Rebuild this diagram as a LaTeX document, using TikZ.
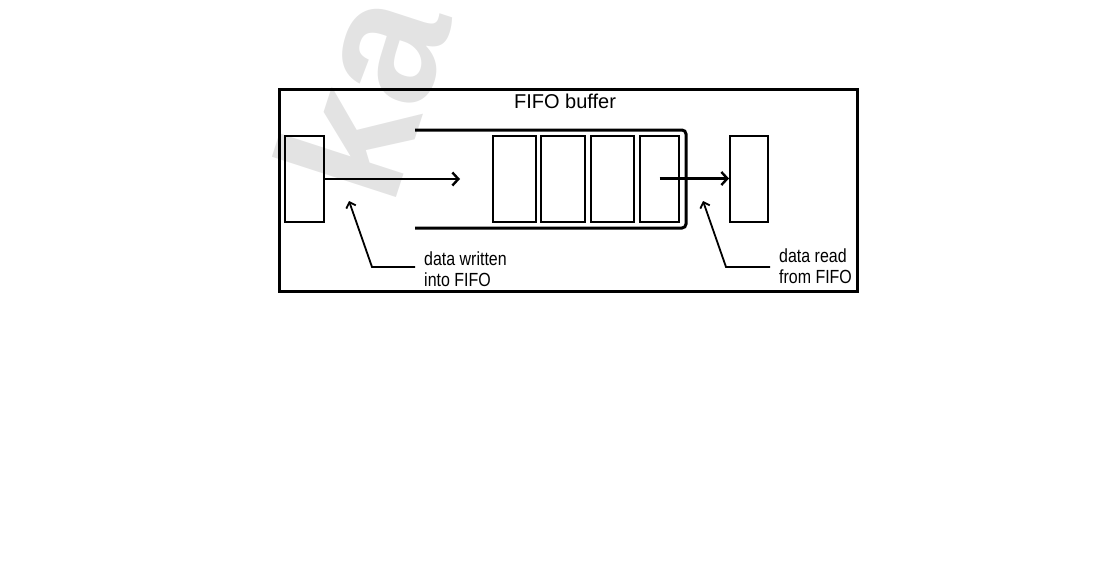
\documentclass[tikz,border=0pt]{standalone}
\usepackage{fontspec}
\setmainfont{Liberation Sans}
\newfontfamily\narrowsans[FakeStretch=0.84]{Liberation Sans}
\usetikzlibrary{arrows.meta}
\definecolor{wmgray}{gray}{0.89}
\tikzset{
  frameline/.style={line width=3pt},
  bufline/.style={line width=3pt, rounded corners=4pt},
  cellbox/.style={draw, line width=2pt, rectangle, inner sep=0pt, minimum height=86pt},
  flowarrow/.style={line width=2.4pt, -{Straight Barb[length=6pt,width=13pt,line width=2.4pt]}},
  leader/.style={line width=1.8pt, -{Straight Barb[length=5pt,width=10pt,line width=1.8pt]}},
  lbl/.style={inner sep=0pt, align=left, anchor=north west, font=\narrowsans\fontsize{19}{21}\selectfont},
  ttl/.style={inner sep=0pt, anchor=base, font=\fontsize{20}{24}\selectfont},
  wmark/.style={inner sep=0pt, anchor=base west, text=wmgray, rotate=72, font=\bfseries\fontsize{180}{180}\selectfont}
}
\begin{document}
\begin{tikzpicture}[x=1pt,y=-1pt]
\useasboundingbox (0,0) rectangle (1115,567);
% watermark
\node[wmark] (wm) at (392,210) {ka};
% frame
\draw[frameline] (279.5,89.5) rectangle (857.5,291.5);
% title
\node[ttl] (title) at (565,109) {FIFO buffer};
% buffer outline
\coordinate (bt) at (415,130);
\coordinate (bb) at (415,228);
\draw[bufline] (bt) -- (686,130) -- (686,228) -- (bb);
% cells
\node[cellbox, minimum width=43pt] (c1) at (514.5,178.5) {};
\node[cellbox, minimum width=44pt] (c2) at (563,178.5) {};
\node[cellbox, minimum width=43pt] (c3) at (612.5,178.5) {};
\node[cellbox, minimum width=39pt] (c4) at (659.5,178.5) {};
% source and destination
\node[cellbox, minimum width=39pt] (src) at (304.5,179) {};
\node[cellbox, minimum width=38pt] (dst) at (749,178.5) {};
% flow arrows
\coordinate (wtip) at (460,179);
\draw[flowarrow] (src.east) -- (wtip);
\draw[flowarrow] (c4.center) -- (dst.west);
% leaders
\coordinate (lw1) at (415,267);
\coordinate (lw2) at (372,267);
\coordinate (lw3) at (349,201);
\draw[leader] (lw1) -- (lw2) -- (lw3);
\coordinate (lr1) at (770,267);
\coordinate (lr2) at (726,267);
\coordinate (lr3) at (703,201);
\draw[leader] (lr1) -- (lr2) -- (lr3);
% labels
\node[lbl] (lwt) at (424,252) {data written\\into FIFO};
\node[lbl] (lrd) at (779,248.5) {data read\\from FIFO};
\end{tikzpicture}
\end{document}
